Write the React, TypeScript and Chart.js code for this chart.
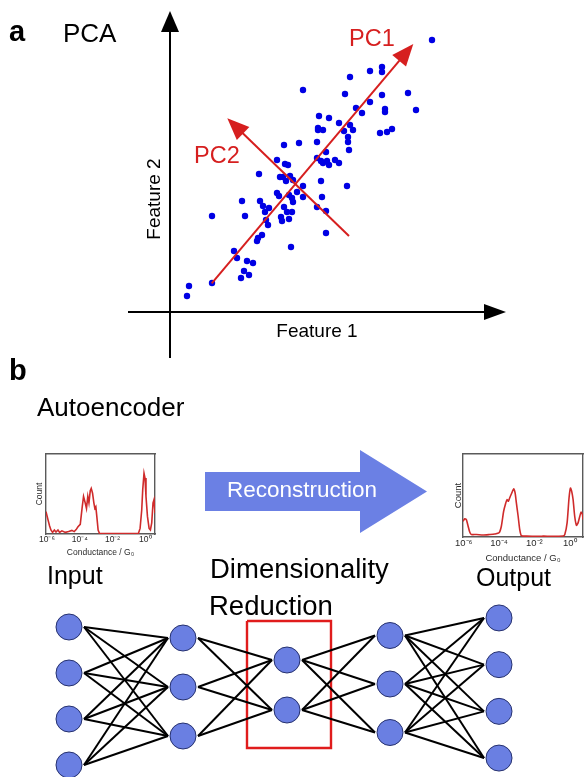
import React, { useEffect, useRef } from 'react';
import { Chart, registerables } from 'chart.js';

Chart.register(...registerables);

const FONT = '"Liberation Sans", Arial, Helvetica, sans-serif';

// ---------- Panel a: PCA scatter (Feature 1 vs Feature 2) ----------
const feature1 = [
  26.2, 21.2, 21.2, 20.0, 18.0, 13.3, 17.5, 21.2, 23.8, 20.0,
  18.6, 19.2, 21.5, 21.5, 24.6, 14.9, 15.9, 16.9, 14.8, 14.8,
  15.3, 18.0, 18.3, 17.4, 17.8, 17.8, 17.9, 21.0, 21.7, 22.2,
  14.7, 12.9, 11.4, 15.6, 14.7, 15.1, 15.3, 15.7, 15.9, 16.5,
  16.9, 10.7, 11.5, 11.8, 8.9, 11.0, 11.3, 12.0, 12.3, 11.6,
  13.3, 15.1, 17.7, 10.7, 10.9, 11.9, 12.2, 12.3, 12.7, 13.3,
  15.2, 7.2, 9.0, 9.3, 9.5, 9.9, 11.4, 11.7, 12.2, 14.7,
  15.6, 4.2, 7.5, 11.1, 11.2, 11.9, 9.6, 9.8, 15.6, 9.2,
  8.8, 8.7, 12.1, 6.4, 6.7, 7.7, 8.3, 7.4, 7.9, 7.1,
  4.2, 1.9, 1.7,
];
const feature2 = [
  27.2, 24.5, 24.0, 24.1, 23.5, 22.2, 21.8, 21.7, 21.9, 21.0,
  20.4, 19.9, 20.3, 20.0, 20.2, 19.6, 19.4, 18.9, 18.4, 18.2,
  18.2, 18.7, 18.2, 18.1, 17.5, 17.0, 16.2, 17.9, 18.0, 18.3,
  17.0, 16.9, 16.7, 16.0, 15.4, 15.1, 14.9, 15.1, 14.7, 15.2,
  14.9, 15.2, 14.8, 14.7, 13.8, 13.5, 13.5, 13.6, 13.2, 13.1,
  12.6, 13.1, 12.6, 11.9, 11.6, 11.7, 11.4, 11.0, 12.0, 11.5,
  11.5, 11.1, 11.1, 10.6, 10.0, 10.4, 10.5, 10.0, 10.0, 10.5,
  10.1, 9.6, 9.6, 9.5, 9.1, 9.3, 9.2, 8.7, 7.9, 7.7,
  7.4, 7.1, 6.5, 6.1, 5.4, 5.1, 4.9, 4.1, 3.7, 3.4,
  2.9, 2.6, 1.6,
];
// principal component arrows (feature units): [start, tip]
const pc1Arrow = [[4.17, 2.87], [24.33, 26.8]];
const pc2Arrow = [[17.9, 7.6], [5.73, 19.37]];
// axis arrows (feature units)
const feature1Axis = [[-4.2, 0], [33.6, 0]];
const feature2Axis = [[0, -4.6], [0, 30.1]];

// ---------- Panel b: conductance histograms ----------
const histTickExps = [-6, -4, -2, 0];
const inputLogG = [
  -6.06, -5.94, -5.84, -5.76, -5.66, -5.55, -5.45, -5.33, -5.23, -5.09,
  -4.88, -4.68, -4.48, -4.34, -4.22, -4.11, -3.97, -3.85, -3.77, -3.67,
  -3.59, -3.51, -3.44, -3.36, -3.30, -3.22, -3.14, -3.08, -3.02, -2.96,
  -2.88, -2.80, -2.6, -2.0, -1.5, -1.0, -0.52, -0.42, -0.32, -0.22,
  -0.16, -0.08, -0.02, 0.04, 0.13, 0.23, 0.31, 0.39, 0.47, 0.53, 0.59,
];
const inputCount = [
  0.28, 0.18, 0.10, 0.05, 0.02, 0.05, 0.025, 0.05, 0.02, 0.04,
  0.02, 0.03, 0.045, 0.03, 0.055, 0.09, 0.12, 0.34, 0.47, 0.39,
  0.32, 0.47, 0.39, 0.54, 0.57, 0.51, 0.39, 0.32, 0.34, 0.22,
  0.05, 0.01, 0.006, 0.005, 0.006, 0.005, 0.006, 0.01, 0.07, 0.30,
  0.55, 0.76, 0.70, 0.47, 0.22, 0.07, 0.05, 0.14, 0.39, 0.43, 0.26,
];
const outputLogG = [
  -6.04, -5.94, -5.85, -5.75, -5.66, -5.57, -5.28, -4.91, -4.53, -4.25,
  -4.00, -3.87, -3.74, -3.62, -3.55, -3.47, -3.40, -3.28, -3.17, -3.09,
  -3.02, -2.92, -2.83, -2.74, -2.45, -1.51, -0.38, -0.28, -0.15, -0.04,
  0.04, 0.11, 0.19, 0.28, 0.38, 0.47, 0.57, 0.64, 0.72, 0.75,
];
const outputCount = [
  0.19, 0.22, 0.21, 0.13, 0.06, 0.03, 0.03, 0.024, 0.03, 0.036,
  0.05, 0.13, 0.31, 0.41, 0.45, 0.43, 0.47, 0.53, 0.58, 0.53,
  0.41, 0.25, 0.09, 0.016, 0.01, 0.01, 0.012, 0.03, 0.17, 0.47,
  0.59, 0.55, 0.45, 0.25, 0.14, 0.17, 0.25, 0.30, 0.27, 0.21,
];

// ---------- Panel b: autoencoder network ----------
const layerSizes = [4, 3, 2, 3, 4];
// layout of the schematic (page units)
const layerX = [69, 183, 287, 390, 499];
const layerCenterY = [696, 687, 685, 684, 688];
const layerGap = [46, 49, 50, 48.5, 46.7];
const bottleneckBox = [[247, 621], [331, 748]];
const reconArrow = { x0: 205, x1: 360, tip: 427, bodyTop: 472, bodyBot: 511, headTop: 450, headBot: 533 };

const NODE = '#6a7fe2';
const RED = '#d61f1f';
const BLUE = '#0000e4';

const SUP: Record<string, string> = { '-': '⁻', '0': '⁰', '1': '¹', '2': '²', '3': '³', '4': '⁴', '5': '⁵', '6': '⁶', '7': '⁷', '8': '⁸', '9': '⁹' };
const sup = (v: number) => String(v).split('').map((c) => SUP[c] || c).join('');

type P = { x: number; y: number };

function arrowParts(from: number[], to: number[], len: number, half: number) {
  const dx = to[0] - from[0];
  const dy = to[1] - from[1];
  const d = Math.hypot(dx, dy);
  const ux = dx / d, uy = dy / d;
  const nx = -uy, ny = ux;
  const bx = to[0] - ux * len, by = to[1] - uy * len;
  const head: P[] = [
    { x: to[0], y: to[1] },
    { x: bx + nx * half, y: by + ny * half },
    { x: bx - nx * half, y: by - ny * half },
    { x: to[0], y: to[1] },
  ];
  const shaft: P[] = [
    { x: from[0], y: from[1] },
    { x: to[0] - ux * len * 0.7, y: to[1] - uy * len * 0.7 },
  ];
  return { head, shaft };
}

function lineDs(data: P[], color: string, width: number, order: number) {
  return { data, borderColor: color, borderWidth: width, pointRadius: 0, tension: 0, fill: false, order, clip: false as any };
}
function shapeDs(data: P[], color: string, order: number) {
  return { data, borderColor: color, borderWidth: 0, backgroundColor: color, pointRadius: 0, tension: 0, fill: 'shape', order, clip: false as any };
}

const hidden = { display: false };
const baseOpts = {
  responsive: false,
  animation: false as const,
  events: [] as any[],
  plugins: { legend: { display: false }, tooltip: { enabled: false } },
};

function makeHist(canvas: HTMLCanvasElement, xs: number[], ys: number[], c: any) {
  const frame = { display: true, color: '#5a5a5a', width: 1.4 };
  return new Chart(canvas, {
    type: 'line',
    data: {
      datasets: [{
        data: xs.map((x, i) => ({ x, y: ys[i] })),
        borderColor: '#cf2b2b', borderWidth: 1.6, pointRadius: 0, tension: c.tension, fill: false,
      }],
    },
    options: {
      ...baseOpts,
      layout: { autoPadding: false, padding: { left: 0, top: c.top, right: c.right, bottom: 0 } },
      scales: {
        x: {
          type: 'linear', min: c.xmin, max: c.xmax,
          grid: { display: false, drawTicks: false }, border: frame,
          afterBuildTicks: (ax: any) => { ax.ticks = histTickExps.map((v) => ({ value: v })); },
          ticks: { callback: (v: any) => '10' + sup(Number(v)), font: { size: c.tickSize, family: FONT }, color: '#2a2a2a', padding: 1, maxRotation: 0, autoSkip: false },
          title: { display: true, text: 'Conductance / G₀', font: { size: c.titleSize, family: FONT }, color: '#2a2a2a', padding: { top: c.xTitlePad, bottom: 0 } },
          afterFit: (ax: any) => { ax.height = c.xh; },
        },
        y: {
          type: 'linear', min: 0, max: 1,
          grid: { display: false, drawTicks: false }, border: frame,
          ticks: { display: false },
          title: { display: true, text: 'Count', font: { size: c.titleSize, family: FONT }, color: '#2a2a2a', padding: { top: c.yTitlePad, bottom: 0 } },
          afterFit: (ax: any) => { ax.width = c.yw; },
        },
        x2: {
          type: 'linear', position: 'top', min: 0, max: 1,
          grid: { display: false, drawTicks: false }, border: frame, ticks: { display: false },
          afterFit: (ax: any) => { ax.height = 0; },
        },
        y2: {
          type: 'linear', position: 'right', min: 0, max: 1,
          grid: { display: false, drawTicks: false }, border: frame, ticks: { display: false },
          afterFit: (ax: any) => { ax.width = 0; },
        },
      },
    } as any,
  });
}

const Txt = ({ children, style }: { children: React.ReactNode; style: React.CSSProperties }) => (
  <div style={{ position: 'absolute', lineHeight: 1, whiteSpace: 'nowrap', fontFamily: FONT, color: '#000', ...style }}>{children}</div>
);

export default function App() {
  const pcaRef = useRef<HTMLCanvasElement>(null);
  const netRef = useRef<HTMLCanvasElement>(null);
  const inRef = useRef<HTMLCanvasElement>(null);
  const outRef = useRef<HTMLCanvasElement>(null);

  useEffect(() => {
    Chart.defaults.font.family = FONT;
    const charts: Chart[] = [];

    // ---- PCA scatter ----
    const pts = feature1.map((x, i) => ({ x, y: feature2[i] }));
    const ax1 = arrowParts(feature1Axis[0], feature1Axis[1], 2.2, 0.8);
    const ax2 = arrowParts(feature2Axis[0], feature2Axis[1], 2.1, 0.9);
    const pc1 = arrowParts(pc1Arrow[0], pc1Arrow[1], 2.2, 0.9);
    const pc2 = arrowParts(pc2Arrow[0], pc2Arrow[1], 2.2, 0.9);
    charts.push(new Chart(pcaRef.current!, {
      type: 'line',
      data: {
        datasets: [
          { data: pts, showLine: false, pointRadius: 3.2, pointBorderWidth: 0, pointBackgroundColor: BLUE, order: 1 } as any,
          lineDs(ax1.shaft, '#000', 2, 2), shapeDs(ax1.head, '#000', 2),
          lineDs(ax2.shaft, '#000', 2, 2), shapeDs(ax2.head, '#000', 2),
          lineDs(pc1.shaft, RED, 2, 0), shapeDs(pc1.head, RED, 0),
          lineDs(pc2.shaft, RED, 2, 0), shapeDs(pc2.head, RED, 0),
        ],
      },
      options: {
        ...baseOpts,
        layout: { autoPadding: false, padding: 0 },
        scales: {
          x: { type: 'linear', min: -17, max: 41.4, ...hidden },
          y: { type: 'linear', min: -5.8, max: 31.2, ...hidden },
        },
      } as any,
    }));

    // ---- Network + reconstruction arrow ----
    const nodes: P[][] = layerSizes.map((n, l) =>
      Array.from({ length: n }, (_, k) => ({ x: layerX[l], y: layerCenterY[l] + (k - (n - 1) / 2) * layerGap[l] })));
    const netDs: any[] = [];
    for (let l = 0; l < nodes.length - 1; l++) {
      for (const a of nodes[l]) for (const b of nodes[l + 1]) {
        netDs.push(lineDs([{ x: a.x + 15, y: a.y }, { x: b.x - 15, y: b.y }], '#000', 2, 1));
      }
    }
    netDs.push({ data: nodes.flat(), showLine: false, pointRadius: 13, pointBackgroundColor: NODE, pointBorderColor: '#25306e', pointBorderWidth: 1, order: 0 });
    const [b0, b1] = bottleneckBox;
    netDs.push(lineDs([{ x: b0[0], y: b0[1] }, { x: b1[0], y: b0[1] }, { x: b1[0], y: b1[1] }, { x: b0[0], y: b1[1] }, { x: b0[0], y: b0[1] }], '#e01c1c', 2.4, 2));
    const r = reconArrow;
    const ymid = (r.headTop + r.headBot) / 2;
    netDs.push(shapeDs([
      { x: r.x0, y: r.bodyTop }, { x: r.x1, y: r.bodyTop }, { x: r.x1, y: r.headTop }, { x: r.tip, y: ymid },
      { x: r.x1, y: r.headBot }, { x: r.x1, y: r.bodyBot }, { x: r.x0, y: r.bodyBot }, { x: r.x0, y: r.bodyTop },
    ], '#6b80e4', 3));
    charts.push(new Chart(netRef.current!, {
      type: 'line',
      data: { datasets: netDs },
      options: {
        ...baseOpts,
        layout: { autoPadding: false, padding: 0 },
        scales: {
          x: { type: 'linear', min: 0, max: 584, ...hidden },
          y: { type: 'linear', min: 440, max: 777, reverse: true, ...hidden },
        },
      } as any,
    }));

    // ---- Histograms ----
    charts.push(makeHist(inRef.current!, inputLogG, inputCount, {
      xmin: -6.06, xmax: 0.59, top: 8, right: 7, xh: 24, yw: 18, tickSize: 8.5, titleSize: 8.5, xTitlePad: 4, yTitlePad: 7, tension: 0,
    }));
    charts.push(makeHist(outRef.current!, outputLogG, outputCount, {
      xmin: -6.04, xmax: 0.75, top: 8, right: 1, xh: 27, yw: 18, tickSize: 9.5, titleSize: 9.5, xTitlePad: 4, yTitlePad: 7.5, tension: 0.2,
    }));

    return () => charts.forEach((c) => c.destroy());
  }, []);

  const cv = (s: React.CSSProperties): React.CSSProperties => ({ position: 'absolute', display: 'block', ...s });

  return (
    <div style={{ position: 'absolute', left: 0, top: 0, width: 584, height: 777, background: '#fff', overflow: 'hidden' }}>
      <canvas ref={pcaRef} width={584} height={370} style={cv({ left: 0, top: 0 })} />
      <canvas ref={netRef} width={584} height={337} style={cv({ left: 0, top: 440 })} />
      <canvas ref={inRef} width={134} height={112} style={cv({ left: 28, top: 446 })} />
      <canvas ref={outRef} width={139} height={118} style={cv({ left: 445, top: 446 })} />

      <Txt style={{ left: 9, top: 17.2, fontSize: 29, fontWeight: 'bold' }}>a</Txt>
      <Txt style={{ left: 63, top: 19.7, fontSize: 26 }}>PCA</Txt>
      <Txt style={{ left: 349, top: 27.1, fontSize: 23.5, color: RED }}>PC1</Txt>
      <Txt style={{ left: 194, top: 144.1, fontSize: 23.5, color: RED }}>PC2</Txt>
      <Txt style={{ left: 317, top: 320.9, fontSize: 19, transform: 'translateX(-50%)' }}>Feature 1</Txt>
      <Txt style={{ left: 152.5, top: 199, fontSize: 19, height: 19, transform: 'translate(-50%, -50%) rotate(-90deg)' }}>Feature 2</Txt>

      <Txt style={{ left: 9, top: 355.5, fontSize: 29, fontWeight: 'bold' }}>b</Txt>
      <Txt style={{ left: 37, top: 393.7, fontSize: 26 }}>Autoencoder</Txt>
      <Txt style={{ left: 302, top: 479, fontSize: 22.5, color: '#fff', transform: 'translateX(-50%)' }}>Reconstruction</Txt>
      <Txt style={{ left: 47, top: 563, fontSize: 25 }}>Input</Txt>
      <Txt style={{ left: 210, top: 554.7, fontSize: 27.5 }}>Dimensionality</Txt>
      <Txt style={{ left: 209, top: 591.7, fontSize: 27.5 }}>Reduction</Txt>
      <Txt style={{ left: 476, top: 564.8, fontSize: 25 }}>Output</Txt>
    </div>
  );
}
